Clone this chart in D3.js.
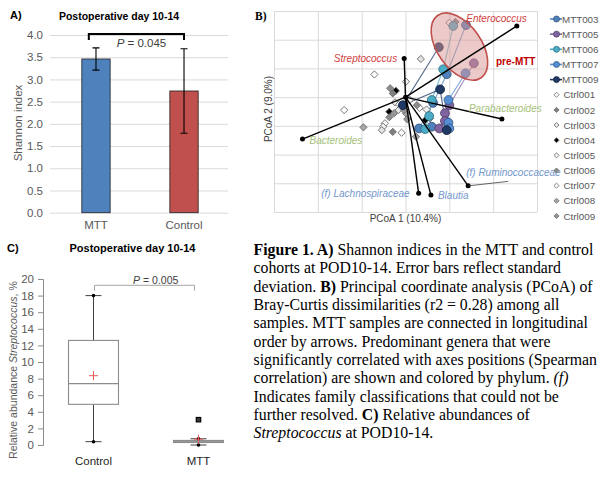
<!DOCTYPE html>
<html>
<head>
<meta charset="utf-8">
<script src="https://cdn.jsdelivr.net/npm/d3@7/dist/d3.min.js"></script>
<style>
  body { margin: 0; background: #fff; }
  svg { display: block; font-family: "Liberation Sans", Arial, sans-serif; }
</style>
</head>
<body>
<svg id="canvas" width="610" height="481"></svg>
<script>
// ---------- data: panel A (Shannon index) ----------
const shannonGroups = ['MTT', 'Control'];
const shannonMean = [3.46, 2.74];
const shannonSD = [0.25, 0.95];
const shannonTicks = [0, 0.5, 1, 1.5, 2, 2.5, 3, 3.5, 4];

// ---------- data: panel B (PCoA) ----------
const mttSubjects = ['MTT003', 'MTT005', 'MTT006', 'MTT007', 'MTT009'];
// longitudinal order, first point = pre-MTT sample
const mttPC1 = [
  [0.138, 0.094, 0.063, 0.031, 0.060],
  [0.156, 0.100, 0.090, 0.090, 0.077],
  [0.109, 0.086, 0.060, 0.054, 0.045],
  [0.137, 0.098, 0.098, 0.100],
  [0.076, -0.006, 0.079, 0.094]
];
const mttPC2 = [
  [0.251, 0.080, -0.020, -0.109, -0.103],
  [0.118, -0.028, -0.056, -0.083, -0.109],
  [0.248, 0.097, -0.010, -0.066, -0.111],
  [0.083, -0.010, -0.089, -0.109],
  [0.174, -0.028, 0.027, -0.115]
];

const ctrlSubjects = ['Ctrl001', 'Ctrl002', 'Ctrl003', 'Ctrl004', 'Ctrl005', 'Ctrl006', 'Ctrl007', 'Ctrl008', 'Ctrl009'];
// index into ctrlSubjects for each control sample
const ctrlOf = [6, 1, 2, 0, 4, 5, 3, 1, 6, 4, 0, 3, 8, 2, 5, 6, 4, 2, 7, 1, 0, 7, 8, 6, 5, 7, 2, 4, 0, 3, 4, 8];
const ctrlPC1 = [0.100, 0.114, 0.035, -0.071, 0.001, -0.035, -0.022, -0.029, -0.140, -0.024, -0.014, -0.037, -0.026, -0.016, -0.037, -0.047,
  -0.051, -0.054, -0.096, -0.029, -0.009, 0.001, 0.004, 0.032, 0.026, 0.024, 0.063, 0.048, 0.056, 0.045, 0.010, -0.003];
const ctrlPC2 = [0.259, 0.262, 0.133, 0.079, 0.054, 0.031, 0.022, 0.013, -0.045, -0.018, -0.025, -0.051, -0.056, -0.045, -0.070, -0.091,
  -0.103, -0.115, -0.105, -0.121, -0.124, -0.056, -0.077, -0.037, -0.028, -0.138, -0.022, -0.043, -0.074, -0.080, -0.010, -0.045];

const genusNames = ['Enterococcus', 'Streptococcus', 'Parabacteroides', 'Bacteroides', '(f) Ruminococcaceae', '(f) Lachnospiraceae', 'Blautia'];
const genusPhylum = ['Firmicutes-Bacilli', 'Firmicutes-Bacilli', 'Bacteroidetes', 'Bacteroidetes', 'Firmicutes-Clostridia', 'Firmicutes-Clostridia', 'Firmicutes-Clostridia'];
const genusPC1 = [0.254, -0.003, 0.220, -0.235, 0.143, 0.030, 0.058];
const genusPC2 = [0.248, 0.135, -0.076, -0.146, -0.309, -0.335, -0.341];
const preMttCentre = [0.123, 0.176];
const pcTicksX = [-0.3, -0.2, -0.1, 0, 0.1, 0.2, 0.3];
const pcTicksY = [-0.4, -0.3, -0.2, -0.1, 0, 0.1, 0.2, 0.3];

// ---------- data: panel C (Streptococcus box plot) ----------
const strepGroups = ['Control', 'MTT'];
const strepMin = [0.4, 0.0];
const strepQ1 = [4.9, 0.3];
const strepMedian = [7.4, 0.4];
const strepQ3 = [12.6, 0.55];
const strepMax = [18.0, 0.75];
const strepMean = [8.35, 0.7];
const strepOutliers = [[], [3.05]];
const strepTicks = [0, 2, 4, 6, 8, 10, 12, 14, 16, 18, 20];

// ---------- drawing ----------
const svg = d3.select('#canvas');
const axisGrey = '#595959';
const gridGrey = '#d9d9d9';
const sans = '"Liberation Sans", Arial, sans-serif';
const serif = '"Liberation Serif", "Times New Roman", serif';

function styleAxis(g, size) {
  g.attr('font-family', sans).attr('font-size', size);
  g.selectAll('text').attr('fill', axisGrey);
}

// ===== A) =====
const gA = svg.append('g');
const xA = d3.scaleBand().domain(shannonGroups).range([51, 229]).paddingInner(0.678).paddingOuter(0.35);
const yA = d3.scaleLinear().domain([0, 4]).range([212.7, 35]);
const barColors = ['#4f81bd', '#c0504d'];

gA.append('g')
  .attr('transform', 'translate(50,0)')
  .call(d3.axisLeft(yA).tickValues(shannonTicks).tickFormat(d3.format('.1f')).tickSize(-178).tickPadding(7))
  .call(g => g.select('.domain').remove())
  .call(g => g.selectAll('line').attr('stroke', gridGrey))
  .call(g => styleAxis(g, 11.5));

gA.selectAll('rect.bar').data(shannonGroups).join('rect')
  .attr('class', 'bar')
  .attr('x', d => xA(d))
  .attr('width', xA.bandwidth())
  .attr('y', (d, i) => yA(shannonMean[i]))
  .attr('height', (d, i) => yA(0) - yA(shannonMean[i]))
  .attr('fill', (d, i) => barColors[i])
  .attr('stroke', '#222')
  .attr('stroke-width', 0.8);

// error bars (+/- SD)
shannonGroups.forEach((d, i) => {
  let cx = xA(d) + xA.bandwidth() / 2;
  let lo = yA(shannonMean[i] - shannonSD[i]);
  let hi = yA(shannonMean[i] + shannonSD[i]);
  gA.append('path')
    .attr('d', `M${cx},${lo}V${hi}M${cx - 3.5},${lo}H${cx + 3.5}M${cx - 3.5},${hi}H${cx + 3.5}`)
    .attr('stroke', '#000').attr('stroke-width', 1.1).attr('fill', 'none');
});

gA.selectAll('text.xl').data(shannonGroups).join('text')
  .attr('x', d => xA(d) + xA.bandwidth() / 2)
  .attr('y', 229)
  .attr('text-anchor', 'middle')
  .attr('font-size', 11.5).attr('fill', axisGrey)
  .text(d => d);

// significance bracket
{
  let x1 = xA('MTT') + 7;
  let x2 = xA('Control') + xA.bandwidth() / 2;
  let yTop = yA(4.02);
  gA.append('path')
    .attr('d', `M${x1},${yTop + 6}V${yTop}H${x2}V${yTop + 6}`)
    .attr('stroke', '#000').attr('stroke-width', 2).attr('fill', 'none');
  let t = gA.append('text').attr('x', (x1 + x2) / 2 + 5).attr('y', 46.5)
    .attr('text-anchor', 'middle').attr('font-size', 11.5).attr('fill', '#404040');
  t.append('tspan').attr('font-style', 'italic').text('P');
  t.append('tspan').text(' = 0.045');
}

gA.append('text').attr('x', 119).attr('y', 20).attr('text-anchor', 'middle')
  .attr('font-weight', 'bold').attr('font-size', 10.5).text('Postoperative day 10-14');
gA.append('text').attr('x', 10).attr('y', 19)
  .attr('font-weight', 'bold').attr('font-size', 11).text('A)');
gA.append('text').attr('transform', 'translate(22,123) rotate(-90)')
  .attr('text-anchor', 'middle').attr('font-size', 11.5).attr('fill', axisGrey).text('Shannon index');

// ===== B) =====
const gB = svg.append('g');
const xB = d3.scaleLinear().domain([-0.3, 0.3]).range([274, 537]);
const yB = d3.scaleLinear().domain([-0.4, 0.3]).range([212, 11]);

gB.append('g').attr('transform', 'translate(0,212)')
  .call(d3.axisBottom(xB).tickValues(pcTicksX).tickSize(-(212 - 11)).tickFormat(''))
  .call(g => g.select('.domain').remove())
  .call(g => g.selectAll('line').attr('stroke', gridGrey));
gB.append('g').attr('transform', 'translate(274,0)')
  .call(d3.axisLeft(yB).tickValues(pcTicksY).tickSize(-(537 - 274)).tickFormat(''))
  .call(g => g.select('.domain').remove())
  .call(g => g.selectAll('line').attr('stroke', gridGrey));

const mttColors = ['#4f81bd', '#8064a2', '#4bacc6', '#558ed5', '#1f3864'];
const ctrlFills = ['#ffffff', '#7f7f7f', '#e3e3e3', '#000000', '#f2f2f2', '#8c8c8c', '#ffffff', '#a6a6a6', '#969696'];

// MTT trajectories
const line = d3.line().x(d => xB(d[0])).y(d => yB(d[1]));
mttSubjects.forEach((s, k) => {
  let pts = mttPC1[k].map((v, j) => [v, mttPC2[k][j]]);
  gB.append('path').datum(pts)
    .attr('d', line)
    .attr('fill', 'none')
    .attr('stroke', mttColors[k])
    .attr('stroke-opacity', 0.75)
    .attr('stroke-width', 1.1);
});

// control samples
const diamond = d3.symbol(d3.symbolSquare, 26);
gB.selectAll('path.ctrl').data(ctrlOf).join('path')
  .attr('class', 'ctrl')
  .attr('d', diamond)
  .attr('transform', (d, i) => `translate(${xB(ctrlPC1[i])},${yB(ctrlPC2[i])}) rotate(45)`)
  .attr('fill', d => ctrlFills[d])
  .attr('stroke', '#6f6f6f')
  .attr('stroke-width', 0.9);

// MTT samples
mttSubjects.forEach((s, k) => {
  gB.selectAll('circle.m' + k).data(mttPC1[k]).join('circle')
    .attr('class', 'm' + k)
    .attr('cx', d => xB(d))
    .attr('cy', (d, j) => yB(mttPC2[k][j]))
    .attr('r', 4.4)
    .attr('fill', mttColors[k])
    .attr('stroke', d3.color(mttColors[k]).darker(1.2))
    .attr('stroke-width', 0.9);
});

// pre-MTT ellipse, drawn over the points
gB.append('ellipse')
  .attr('transform', `translate(${xB(preMttCentre[0])},${yB(preMttCentre[1])}) rotate(55)`)
  .attr('rx', 38).attr('ry', 22)
  .attr('fill', '#d99694').attr('fill-opacity', 0.5)
  .attr('stroke', '#c0504d').attr('stroke-width', 1.6);
gB.append('text').attr('x', 496).attr('y', 65)
  .attr('font-weight', 'bold').attr('font-size', 10).attr('fill', '#c00000').text('pre-MTT');

// biplot arrows for correlated genera
const phylumColor = { 'Firmicutes-Bacilli': '#d04040', 'Bacteroidetes': '#a5c17a', 'Firmicutes-Clostridia': '#7396cc' };
const labelPlace = {
  'Enterococcus': [10, -4, 'end'],
  'Streptococcus': [-7, 4, 'end'],
  'Parabacteroides': [-33, -7, 'start'],
  'Bacteroides': [7, 5, 'start'],
  '(f) Ruminococcaceae': [-2, -10, 'start'],
  '(f) Lachnospiraceae': [-9, 4, 'end'],
  'Blautia': [7, 4, 'start']
};
const ox = xB(0), oy = yB(0);
genusNames.forEach((g, i) => {
  let ex = xB(genusPC1[i]), ey = yB(genusPC2[i]);
  gB.append('line').attr('x1', ox).attr('y1', oy).attr('x2', ex).attr('y2', ey)
    .attr('stroke', '#000').attr('stroke-width', 1.4);
  gB.append('circle').attr('cx', ex).attr('cy', ey).attr('r', 2.5).attr('fill', '#000');
  if (g === '(f) Ruminococcaceae') {
    gB.append('line').attr('x1', ex).attr('y1', ey).attr('x2', ex + 40).attr('y2', ey - 4.5)
      .attr('stroke', '#404040').attr('stroke-width', 0.8);
  }
  let p = labelPlace[g];
  gB.append('text').attr('x', ex + p[0]).attr('y', ey + p[1])
    .attr('text-anchor', p[2])
    .attr('font-style', 'italic').attr('font-size', 10)
    .attr('fill', phylumColor[genusPhylum[i]])
    .text(g);
});
gB.append('circle').attr('cx', ox).attr('cy', oy).attr('r', 2.5).attr('fill', '#000');

gB.append('text').attr('x', 405.5).attr('y', 222).attr('text-anchor', 'middle')
  .attr('font-size', 10).attr('fill', '#404040').text('PCoA 1 (10.4%)');
gB.append('text').attr('transform', 'translate(272,109) rotate(-90)').attr('text-anchor', 'middle')
  .attr('font-size', 10).attr('fill', '#404040').text('PCoA 2 (9.0%)');
gB.append('text').attr('x', 255).attr('y', 20).attr('font-family', serif)
  .attr('font-weight', 'bold').attr('font-size', 11.5).text('B)');

// legend
const legend = gB.append('g');
const rowY = i => 19 + i * 15.15;
mttSubjects.forEach((s, k) => {
  let y = rowY(k);
  legend.append('line').attr('x1', 550).attr('x2', 562).attr('y1', y).attr('y2', y)
    .attr('stroke', mttColors[k]).attr('stroke-width', 1.6);
  legend.append('circle').attr('cx', 556.5).attr('cy', y).attr('r', 3)
    .attr('fill', mttColors[k]).attr('stroke', d3.color(mttColors[k]).darker(1.2)).attr('stroke-width', 0.8);
  legend.append('text').attr('x', 562).attr('y', y + 3.6)
    .attr('font-size', 9.8).attr('fill', axisGrey).text(s);
});
ctrlSubjects.forEach((s, k) => {
  let y = rowY(k + 5);
  legend.append('path').attr('d', d3.symbol(d3.symbolSquare, 13))
    .attr('transform', `translate(556.5,${y}) rotate(45)`)
    .attr('fill', ctrlFills[k]).attr('stroke', '#6f6f6f').attr('stroke-width', 0.8);
  legend.append('text').attr('x', 563.5).attr('y', y + 3.6)
    .attr('font-size', 9.8).attr('fill', axisGrey).text(s);
});

// ===== C) =====
const gC = svg.append('g');
const xC = d3.scaleBand().domain(strepGroups).range([41, 251]).paddingInner(0.524).paddingOuter(0.262);
const yC = d3.scaleLinear().domain([0, 20]).range([445, 279]);

gC.append('g').attr('transform', 'translate(43,0)')
  .call(d3.axisLeft(yC).tickValues(strepTicks).tickSize(5).tickPadding(4))
  .call(g => g.select('.domain').attr('stroke', '#8c8c8c'))
  .call(g => g.selectAll('line').attr('stroke', '#8c8c8c'))
  .call(g => styleAxis(g, 11.5));

strepGroups.forEach((d, i) => {
  let x0 = xC(d), w = xC.bandwidth(), cx = x0 + w / 2;
  let capW = 8;
  // whiskers
  gC.append('path')
    .attr('d', `M${cx},${yC(strepQ3[i])}V${yC(strepMax[i])}M${cx},${yC(strepQ1[i])}V${yC(strepMin[i])}` +
      `M${cx - capW},${yC(strepMax[i])}H${cx + capW}M${cx - capW},${yC(strepMin[i])}H${cx + capW}`)
    .attr('stroke', '#404040').attr('stroke-width', 1).attr('fill', 'none');
  // box
  gC.append('rect').attr('x', x0).attr('width', w)
    .attr('y', yC(strepQ3[i])).attr('height', yC(strepQ1[i]) - yC(strepQ3[i]))
    .attr('fill', i === 1 ? '#bfbfbf' : 'none').attr('stroke', '#8c8c8c').attr('stroke-width', 1.1);
  gC.append('line').attr('x1', x0).attr('x2', x0 + w)
    .attr('y1', yC(strepMedian[i])).attr('y2', yC(strepMedian[i]))
    .attr('stroke', '#8c8c8c').attr('stroke-width', 1.1);
  // min / max points
  [strepMin[i], strepMax[i]].forEach(v => {
    gC.append('circle').attr('cx', cx).attr('cy', yC(v)).attr('r', 1.8).attr('fill', '#000');
  });
  // mean as a thin red plus
  let my = yC(strepMean[i]);
  gC.append('path').attr('d', `M${cx - 4.5},${my}H${cx + 4.5}M${cx},${my - 4.5}V${my + 4.5}`)
    .attr('stroke', '#e8595c').attr('stroke-width', 1);
  // outliers
  strepOutliers[i].forEach(v => {
    gC.append('rect').attr('x', cx - 2.2).attr('y', yC(v) - 2.2).attr('width', 4.4).attr('height', 4.4)
      .attr('fill', '#3a3a3a').attr('stroke', '#000').attr('stroke-width', 1.2);
  });
});

gC.selectAll('text.xl').data(strepGroups).join('text')
  .attr('x', d => xC(d) + xC.bandwidth() / 2)
  .attr('y', 465)
  .attr('text-anchor', 'middle')
  .attr('font-size', 11.5).attr('fill', '#262626')
  .text(d => d);

// p-value bracket
{
  let x1 = xC('Control') + xC.bandwidth() / 2 + 1;
  let x2 = xC('MTT') + xC.bandwidth() / 2 - 4;
  gC.append('path').attr('d', `M${x1},290.7V285.3H${x2}V290.7`)
    .attr('stroke', '#a6a6a6').attr('stroke-width', 1).attr('fill', 'none');
  let t = gC.append('text').attr('x', 155.7).attr('y', 283.5)
    .attr('text-anchor', 'middle').attr('font-size', 10.5).attr('fill', '#404040');
  t.append('tspan').attr('font-style', 'italic').text('P');
  t.append('tspan').text(' = 0.005');
}

gC.append('text').attr('x', 132.5).attr('y', 252).attr('text-anchor', 'middle')
  .attr('font-weight', 'bold').attr('font-size', 11).text('Postoperative day 10-14');
gC.append('text').attr('x', 7).attr('y', 251.5)
  .attr('font-weight', 'bold').attr('font-size', 11).text('C)');
{
  let t = gC.append('text').attr('transform', 'translate(17,370) rotate(-90)')
    .attr('text-anchor', 'middle').attr('font-size', 10.5).attr('fill', axisGrey);
  t.append('tspan').text('Relative abundance ');
  t.append('tspan').attr('font-style', 'italic').text('Streptococcus');
  t.append('tspan').text(', %');
}

// ===== caption =====
const captionLines = [
  [['b', 'Figure 1. A)'], ['', ' Shannon indices in the MTT and control']],
  [['', 'cohorts at POD10-14. Error bars reflect standard']],
  [['', 'deviation. '], ['b', 'B)'], ['', ' Principal coordinate analysis (PCoA) of']],
  [['', 'Bray-Curtis dissimilarities (r2 = 0.28) among all']],
  [['', 'samples. MTT samples are connected in longitudinal']],
  [['', 'order by arrows. Predominant genera that were']],
  [['', 'significantly correlated with axes positions (Spearman']],
  [['', 'correlation) are shown and colored by phylum. '], ['i', '(f)']],
  [['', 'Indicates family classifications that could not be']],
  [['', 'further resolved. '], ['b', 'C)'], ['', ' Relative abundances of']],
  [['i', 'Streptococcus'], ['', ' at POD10-14.']]
];
const cap = svg.append('text').attr('font-family', serif).attr('font-size', 15.8).attr('fill', '#000');
captionLines.forEach((parts, i) => {
  parts.forEach((p, j) => {
    let ts = cap.append('tspan').text(p[1]);
    if (j === 0) ts.attr('x', 253.5).attr('y', 255 + i * 18.33);
    if (p[0] === 'b') ts.attr('font-weight', 'bold');
    if (p[0] === 'i') ts.attr('font-style', 'italic');
  });
});
</script>
</body>
</html>
